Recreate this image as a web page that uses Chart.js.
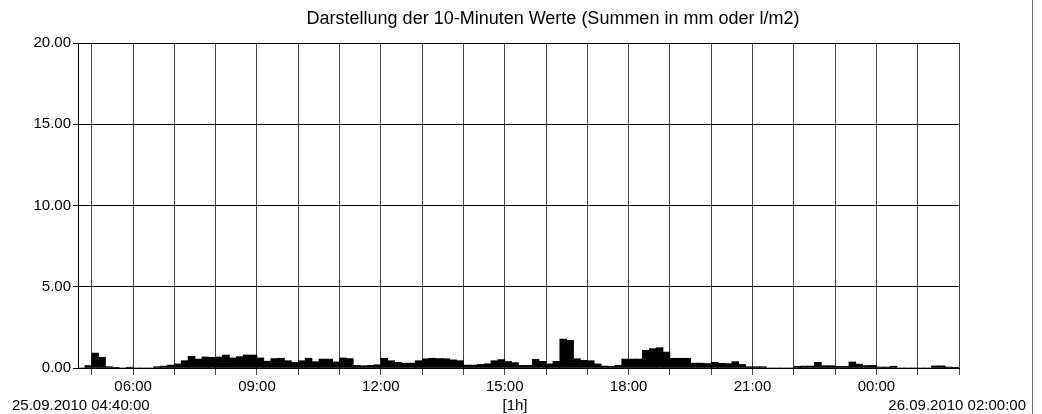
<!DOCTYPE html>
<html>
<head>
<meta charset="utf-8">
<script src="https://cdn.jsdelivr.net/npm/chart.js@4.4.0/dist/chart.umd.min.js"></script>
<style>
body { margin: 0; background: #fff; }
#wrap { position: relative; width: 1042px; height: 414px; }
#rand { position: absolute; left: 1032px; top: 0; width: 1px; height: 414px; background: #777; }
</style>
</head>
<body>
<div id="wrap">
  <canvas id="chart" width="1042" height="414"></canvas>
  <div id="rand"></div>
</div>
<script>
const titel = "Darstellung der 10-Minuten Werte (Summen in mm oder l/m2)";
const startText = "25.09.2010 04:40:00";
const endText = "26.09.2010 02:00:00";
const einheit = "[1h]";

// Stundenmarken ab 05:00 (Start 04:40, 10-Minuten Raster)
const stunden = ["05:00", "06:00", "07:00", "08:00", "09:00", "10:00", "11:00", "12:00",
    "13:00", "14:00", "15:00", "16:00", "17:00", "18:00", "19:00", "20:00", "21:00",
    "22:00", "23:00", "00:00", "01:00", "02:00"];
const beschriftet = ["06:00", "09:00", "12:00", "15:00", "18:00", "21:00", "00:00"];
const yTicks = [0, 5, 10, 15, 20];

// 10-Minuten Summen in mm, 04:40 bis 02:00 (128 Werte)
const werte = [
    0, 0.15, 0.92, 0.66, 0.08, 0.02, 0, 0.05, 0, 0, 0, 0.08,          // 04:40 - 06:30
    0.12, 0.18, 0.25, 0.45, 0.72, 0.55, 0.68, 0.66, 0.68, 0.8, 0.62, 0.7,
    0.8, 0.8, 0.62, 0.42, 0.58, 0.6, 0.45, 0.35, 0.45, 0.6, 0.39, 0.55,
    0.55, 0.37, 0.62, 0.58, 0.16, 0.14, 0.16, 0.2, 0.6, 0.45, 0.35, 0.3,
    0.3, 0.45, 0.57, 0.6, 0.58, 0.57, 0.5, 0.45, 0.18, 0.18, 0.22, 0.26,
    0.45, 0.52, 0.4, 0.33, 0.16, 0.16, 0.53, 0.41, 0.25, 0.41, 1.78, 1.7,
    0.57, 0.47, 0.45, 0.25, 0.12, 0.1, 0.16, 0.55, 0.55, 0.55, 1.09, 1.19,
    1.25, 0.98, 0.6, 0.6, 0.6, 0.3, 0.3, 0.27, 0.35, 0.29, 0.27, 0.39,
    0.22, 0.08, 0.08, 0.08, 0, 0, 0, 0, 0.1, 0.12, 0.12, 0.35,
    0.14, 0.14, 0.1, 0.1, 0.37, 0.24, 0.15, 0.16, 0.06, 0.06, 0.11, 0,
    0, 0, 0, 0, 0.13, 0.13, 0.06, 0.02
];

const schrift = '"Liberation Sans", Arial, sans-serif';

const textPlugin = {
    id: "texte",
    afterDraw(chart) {
        const ctx = chart.ctx;
        ctx.save();
        ctx.fillStyle = "#000";
        ctx.font = "18px " + schrift;
        ctx.textAlign = "center";
        ctx.textBaseline = "alphabetic";
        ctx.fillText(titel, 553, 24);

        ctx.font = "15px " + schrift;
        ctx.textBaseline = "middle";
        ctx.textAlign = "left";
        ctx.fillText(startText, 12, 406);
        ctx.textAlign = "center";
        ctx.fillText(einheit, 515, 406);
        ctx.textAlign = "right";
        ctx.fillText(endText, 1026, 406);
        ctx.restore();
    }
};

const ctx = document.getElementById("chart");
const myChart = new Chart(ctx, {
    type: "bar",
    data: {
        datasets: [{
            data: werte.map((v, i) => ({ x: i * 10 + 5, y: v })),
            backgroundColor: "#000",
            borderWidth: 0,
            barPercentage: 1,
            categoryPercentage: 1
        }]
    },
    options: {
        responsive: false,
        animation: false,
        devicePixelRatio: 1,
        layout: { padding: { top: 43, right: 83, left: 0, bottom: 0 } },
        plugins: {
            legend: { display: false },
            tooltip: { enabled: false }
        },
        scales: {
            x: {
                type: "linear",
                offset: false,
                min: 0,
                max: 1280,
                afterBuildTicks: (s) => { s.ticks = stunden.map((h, k) => ({ value: 20 + 60 * k })); },
                afterFit: (s) => { s.height = 46; },
                ticks: {
                    autoSkip: false,
                    maxRotation: 0,
                    padding: 3,
                    color: "#000",
                    font: { family: schrift, size: 15 },
                    callback: (v) => {
                        const h = stunden[Math.round((v - 20) / 60)];
                        return beschriftet.includes(h) ? h : "";
                    }
                },
                grid: { color: "#444", tickLength: 7, offset: false },
                border: { color: "#000" }
            },
            y: {
                min: 0,
                max: 20,
                afterBuildTicks: (s) => { s.ticks = yTicks.map((v) => ({ value: v })); },
                afterFit: (s) => { s.width = 78; },
                ticks: {
                    padding: 2,
                    color: "#000",
                    font: { family: schrift, size: 15 },
                    callback: (v) => v.toFixed(2)
                },
                grid: { color: "#000", tickLength: 5 },
                border: { color: "#000" }
            }
        }
    },
    plugins: [textPlugin]
});
</script>
</body>
</html>
